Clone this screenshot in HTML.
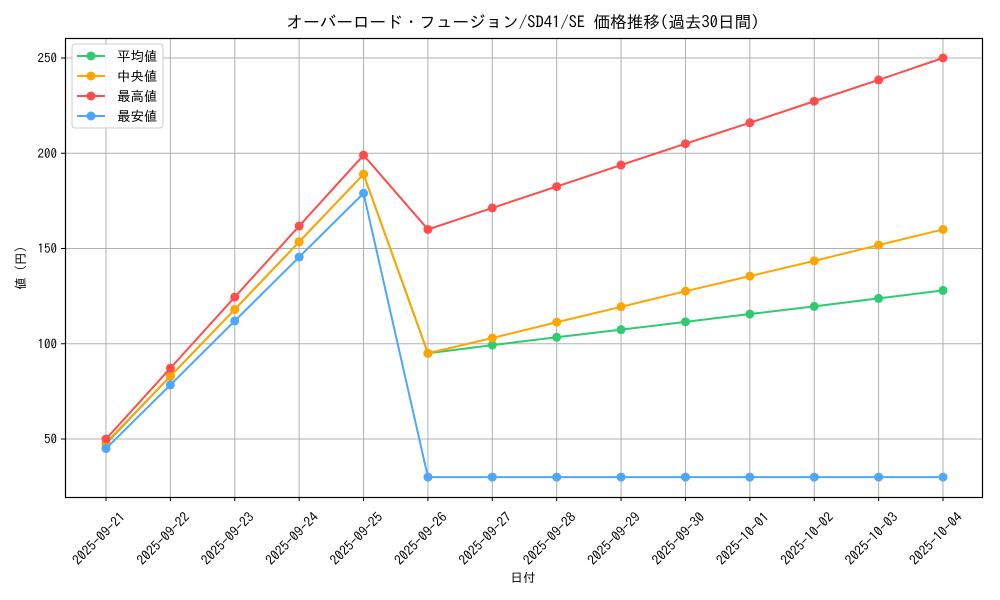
<!DOCTYPE html>
<html><head><meta charset="utf-8"><style>
body{margin:0;background:#fff}
svg{display:block;font-family:"IPAGothic","Noto Sans CJK JP",sans-serif}
</style></head><body>
<svg id="chart" width="1000" height="600">
<text x="523" y="28" font-size="16.6" text-anchor="middle">オーバーロード・フュージョン/SD41/SE 価格推移(過去30日間)</text>
<text x="523" y="582" font-size="12.5" text-anchor="middle">日付</text>
<text x="0" y="0" font-size="12.5" text-anchor="middle" transform="translate(25,268) rotate(-90)">値 (円)</text>
<g id="grid"></g><g id="series"></g>
<rect x="65.5" y="38.5" width="917" height="459" fill="none" stroke="#000" stroke-width="1.2"/>
<g>
<rect x="72" y="44" width="91" height="84" rx="3" fill="#fff" fill-opacity="0.85" stroke="#ccc"/>
</g>
<g id="legend"></g>
</svg>
<script>
const categories=["2025-09-21","2025-09-22","2025-09-23","2025-09-24","2025-09-25","2025-09-26","2025-09-27","2025-09-28","2025-09-29","2025-09-30","2025-10-01","2025-10-02","2025-10-03","2025-10-04"];
const avgValues=[47.5,83,118,153.5,189,95,99.3,103.4,107.4,111.5,115.6,119.6,123.8,128];
const medianValues=[48,83,118,153.5,189,95,103,111.3,119.4,127.6,135.5,143.5,151.8,160];
const maxValues=[50,87.2,124.5,161.8,199,160,171.3,182.5,193.8,205,216,227.3,238.5,250];
const minValues=[45,78.4,112,145.5,179,30,30,30,30,30,30,30,30,30];
const yTicks=[50,100,150,200,250];
const seriesNames=["平均値","中央値","最高値","最安値"];
const NS="http://www.w3.org/2000/svg";
const xs=i=>106+i*(943-106)/(categories.length-1);
const ys=v=>439-(v-50)*(439-58)/200;
const svg=document.getElementById('chart'),grid=document.getElementById('grid'),ser=document.getElementById('series'),leg=document.getElementById('legend');
function mk(t,a,p){const e=document.createElementNS(NS,t);for(const k in a)e.setAttribute(k,a[k]);(p||svg).appendChild(e);return e;}
categories.forEach((c,i)=>{
 const x=xs(i);
 const g=mk('line',{x1:x,x2:x,y1:38,y2:497,stroke:'#b0b0b0','stroke-width':1},grid);
 
 
 mk('line',{x1:x,x2:x,y1:497,y2:501,stroke:'#000'},grid);
 const t=mk('text',{x:0,y:0,'font-size':13.5,'text-anchor':'end',transform:`translate(${x+20},${518}) rotate(-45)`},grid);
 t.textContent=c;
 
 
});
yTicks.forEach(v=>{
 const y=ys(v);
 const g=mk('line',{x1:65,x2:982,y1:y,y2:y,stroke:'#b0b0b0','stroke-width':1},grid);
 
 
 mk('line',{x1:61,x2:65,y1:y,y2:y,stroke:'#000'},grid);
 const t=mk('text',{x:57,y:y+4.5,'font-size':13,'text-anchor':'end'},grid);
 t.textContent=v;
 
 
});
const all=[[avgValues,'#2ecc71','avg'],[medianValues,'#ffa500','median'],[maxValues,'#ff4d4d','max'],[minValues,'#4da6ff','min']];
all.forEach(([vals,col,n],k)=>{
 const p=mk('polyline',{points:vals.map((v,i)=>xs(i)+','+ys(v)).join(' '),fill:'none',stroke:col,'stroke-width':2},ser);
 
 
 vals.forEach((v,i)=>{const c=mk('circle',{cx:xs(i),cy:ys(v),r:4.5,fill:col},ser);
  
  });
 const ly=56+k*20;
 mk('line',{x1:77,x2:105,y1:ly,y2:ly,stroke:col,'stroke-width':2},leg);
 mk('circle',{cx:91,cy:ly,r:4.5,fill:col},leg);
 const t=mk('text',{x:117,y:ly+5,'font-size':13.5},leg);
 t.textContent=seriesNames[k];
 
 
});
</script>
</body></html>
